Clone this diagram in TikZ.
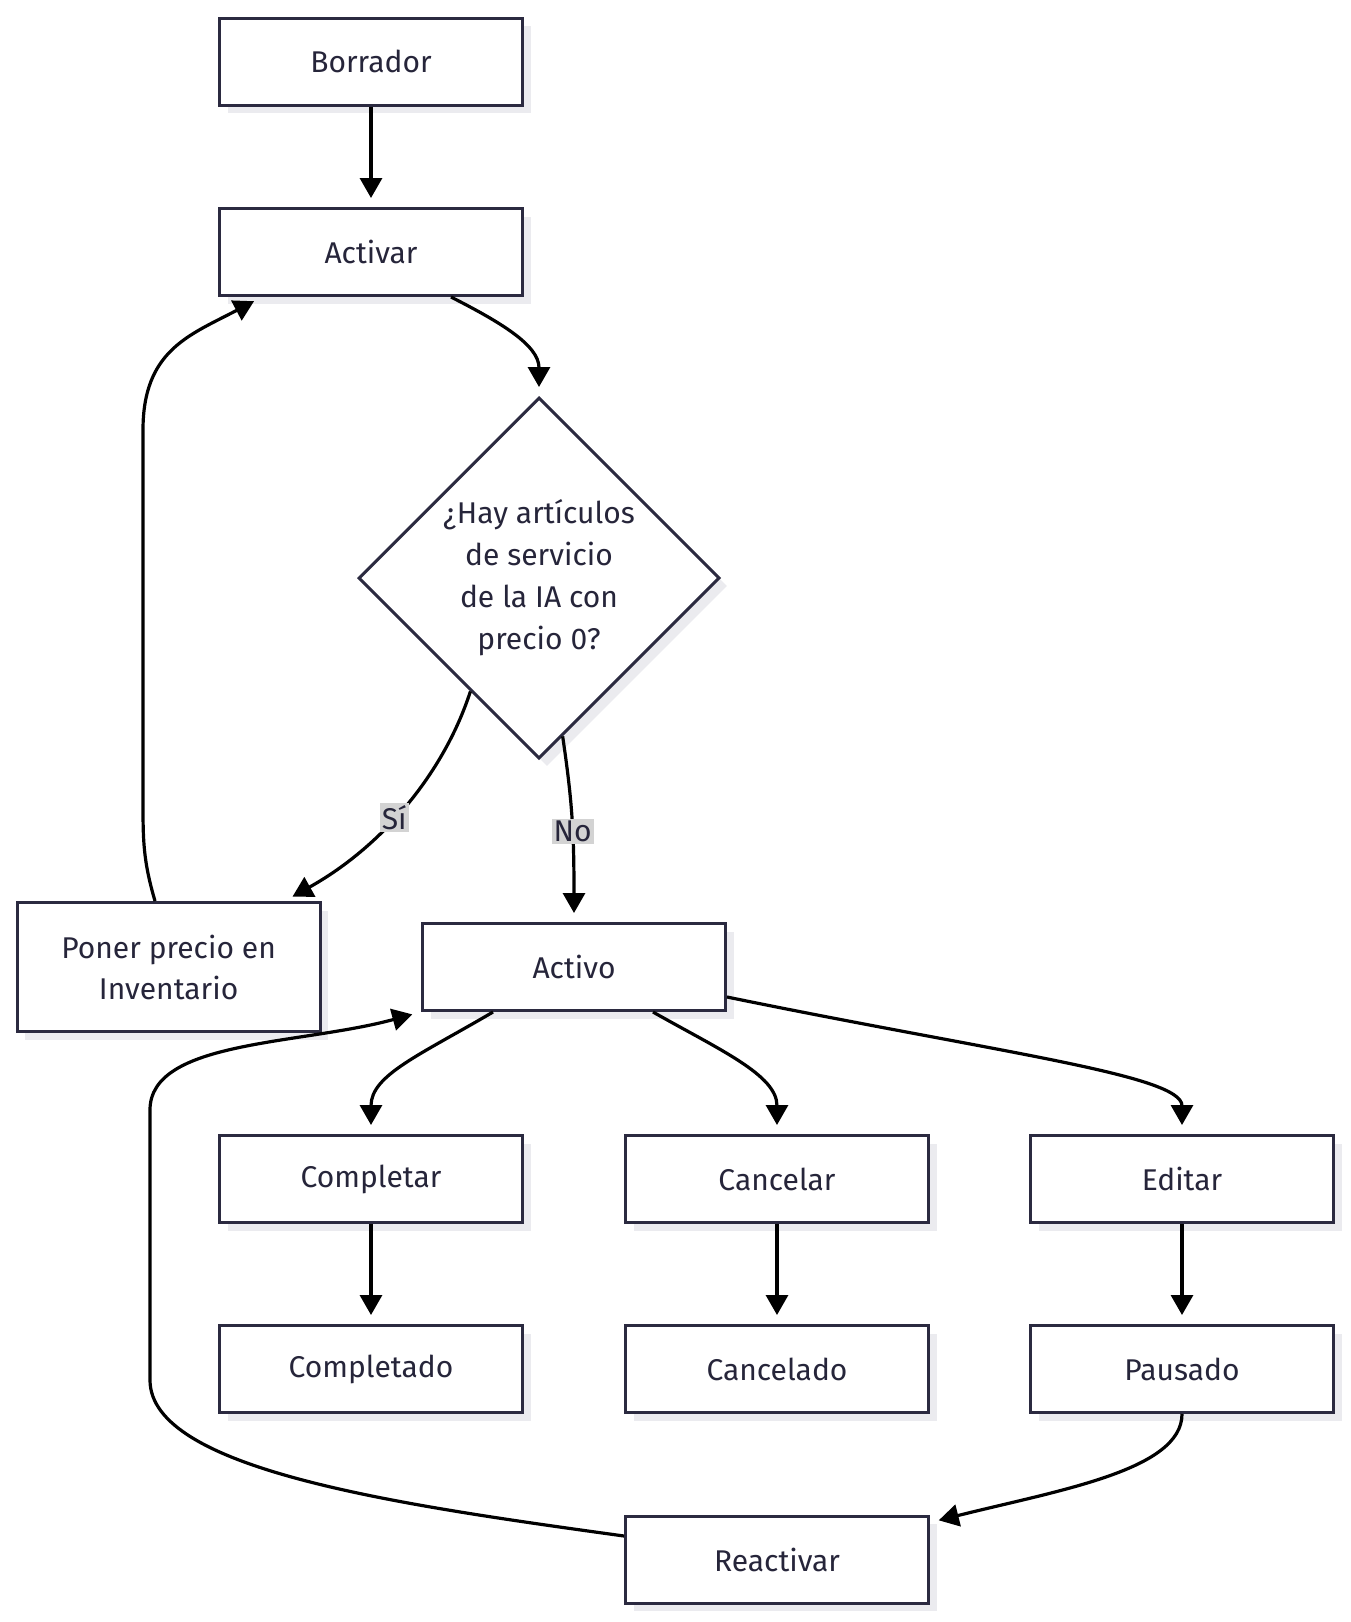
\documentclass[tikz,border=0pt]{standalone}
\usepackage{fontspec}
\setmainfont{Fira Sans}
\usetikzlibrary{shapes.geometric,arrows.meta,calc,shadows}
\definecolor{edgec}{HTML}{2B2A40}
\definecolor{shad}{HTML}{EBEBEF}
\definecolor{labbg}{HTML}{D3D3D3}
\definecolor{txt}{HTML}{26253A}
\begin{document}
\begin{tikzpicture}[x=1pt,y=-1pt,
  box/.style={draw=edgec, line width=3pt, fill=white, minimum width=303pt, minimum height=87pt,
    text=txt, font=\fontsize{30}{41}\selectfont, align=center,
    drop shadow={shadow xshift=8pt, shadow yshift=-8pt, fill=shad, opacity=1}},
  dia/.style={diamond, draw=edgec, line width=3pt, fill=white, minimum width=361pt, minimum height=361pt,
    inner sep=0pt, drop shadow={shadow xshift=8pt, shadow yshift=-8pt, fill=shad, opacity=1}},
  diatext/.style={text=txt, font=\fontsize{30}{42}\selectfont, align=center},
  arr/.style={line width=3.2pt, draw=black, -{Triangle[length=20pt,width=22pt]}, shorten >=9pt},
  lbl/.style={fill=labbg, text=txt, inner sep=2pt, font=\fontsize{30}{35}\selectfont}]
\useasboundingbox (0,0) rectangle (1351,1622);

\node[box] (bor) at (371,61.5) {Borrador};
\node[box] (acv) at (371,252) {Activar};
\node[dia] (dia) at (539,578) {};
\node[diatext] (diat) at (dia.center) {¿Hay artículos\\de servicio\\de la IA con\\precio 0?};
\node[box, minimum height=129pt] (pon) at (168.6,967) {Poner precio en\\Inventario};
\node[box] (act) at (574,967) {Activo};
\node[box] (cpr) at (371,1179) {Completar};
\node[box] (can) at (777,1179) {Cancelar};
\node[box] (edi) at (1182,1179) {Editar};
\node[box] (cpd) at (371,1369) {Completado};
\node[box] (cad) at (777,1369) {Cancelado};
\node[box] (pau) at (1182,1369) {Pausado};
\node[box] (rea) at (777,1559.5) {Reactivar};

\draw[arr] (bor.south) -- (acv.north);
\draw[arr] ([xshift=80pt]acv.south) .. controls (500,322) and (539,345) .. (dia.north);
\draw[arr] ($(dia.west)!0.623!(dia.south)$) .. controls (445,770) and (385,845) .. ([xshift=116pt]pon.north) node[lbl,pos=0.56] {Sí};
\draw[arr] ($(dia.south)!0.13!(dia.east)$) .. controls (572,800) and (574,830) .. (act.north) node[lbl,pos=0.58] {No};
\draw[arr] ([xshift=-13.6pt]pon.north) .. controls (143,860) and (143,840) .. (143,800) -- (143,430) .. controls (143,350) and (190,335) .. ([xshift=-109pt]acv.south);
\draw[arr] ([xshift=-81pt]act.south) .. controls (420,1055) and (371,1075) .. (cpr.north);
\draw[arr] ([xshift=79pt]act.south) .. controls (720,1050) and (777,1075) .. (can.north);
\draw[arr] ([yshift=-30pt]act.east) .. controls (1000,1053) and (1182,1075) .. (edi.north);
\draw[arr] (cpr.south) -- (cpd.north);
\draw[arr] (can.south) -- (cad.north);
\draw[arr] (edi.south) -- (pau.north);
\draw[arr] (pau.south) .. controls (1182,1470) and (1060,1490) .. ([yshift=-8pt]rea.north east);
\draw[arr] ([yshift=23.5pt]rea.west) .. controls (400,1505) and (150,1470) .. (150,1380) -- (150,1110) .. controls (150,1040) and (300,1045) .. (act.south west);
\end{tikzpicture}
\end{document}
